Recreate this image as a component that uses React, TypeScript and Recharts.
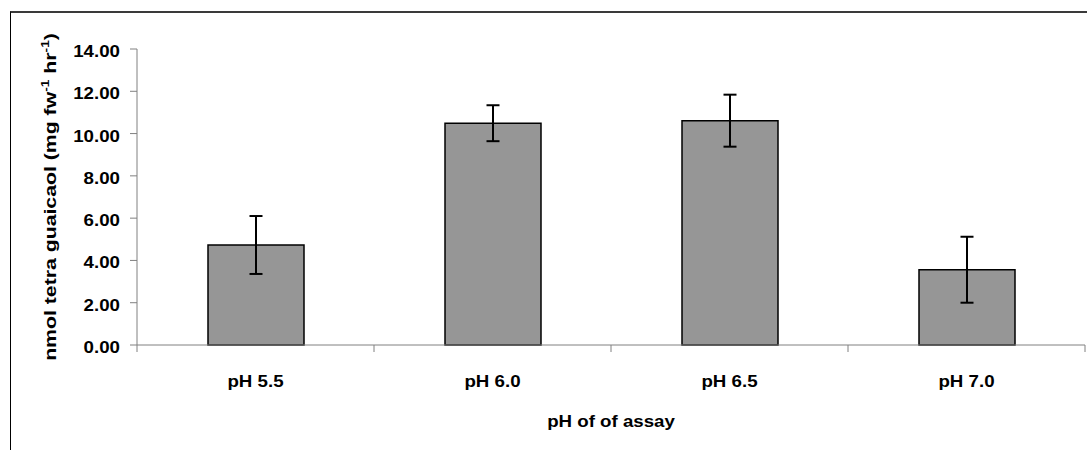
import React from 'react'
import { BarChart, Bar, XAxis, YAxis, ErrorBar, Label } from 'recharts'

const categories = ['pH 5.5', 'pH 6.0', 'pH 6.5', 'pH 7.0']
const means = [4.73, 10.49, 10.61, 3.56]
const errors = [1.37, 0.85, 1.23, 1.56]
const yTicks = [0, 2, 4, 6, 8, 10, 12, 14]

const xTitle = 'pH of of assay'

const W = 1087
const H = 450
const PLOT_LEFT = 137
const PLOT_RIGHT = 1085
const FONT = '"Liberation Sans", Arial, Helvetica, sans-serif'

const data = categories.map((c, i) => ({ name: c, mean: means[i], err: errors[i] }))

const halfBand = (PLOT_RIGHT - PLOT_LEFT) / categories.length / 2

const XTick = (props: any) => {
  const { x, y, payload, index } = props
  const last = index === categories.length - 1
  return (
    <g>
      <line x1={x - halfBand} y1={y - 7} x2={x - halfBand} y2={y} stroke="#808080" />
      {last && <line x1={x + halfBand} y1={y - 7} x2={x + halfBand} y2={y} stroke="#808080" />}
      <text
        transform={`translate(${x},${y + 35}) scale(1.1,1)`}
        textAnchor="middle"
        fontFamily={FONT}
        fontWeight="bold"
        fontSize={17}
        fill="#000"
      >
        {payload.value}
      </text>
    </g>
  )
}

const YTick = (props: any) => {
  const { x, y, payload } = props
  return (
    <text
      transform={`translate(${x},${y + 8}) scale(1.1,1)`}
      textAnchor="end"
      fontFamily={FONT}
      fontWeight="bold"
      fontSize={17}
      fill="#000"
    >
      {Number(payload.value).toFixed(2)}
    </text>
  )
}

const YTitle = (props: any) => {
  const vb = props.viewBox || {}
  const cy = (vb.y ?? 49) + (vb.height ?? 296) / 2
  return (
    <text
      transform={`translate(56,${cy}) rotate(-90) scale(1.25,1)`}
      textAnchor="middle"
      fontFamily={FONT}
      fontWeight="bold"
      fontSize={17}
      fill="#000"
    >
      nmol tetra guaicaol (mg fw
      <tspan fontSize={11} dy={-7}>-1</tspan>
      <tspan dy={7}> hr</tspan>
      <tspan fontSize={11} dy={-7}>-1</tspan>
      <tspan dy={7}>)</tspan>
    </text>
  )
}

const XTitle = (props: any) => {
  const vb = props.viewBox || {}
  const cx = (vb.x ?? PLOT_LEFT) + (vb.width ?? PLOT_RIGHT - PLOT_LEFT) / 2
  return (
    <text
      transform={`translate(${cx},427) scale(1.1,1)`}
      textAnchor="middle"
      fontFamily={FONT}
      fontWeight="bold"
      fontSize={17}
      fill="#000"
    >
      {xTitle}
    </text>
  )
}

export default function App() {
  return (
    <div style={{ position: 'absolute', left: 0, top: 0, width: W, height: H, overflow: 'hidden', background: '#fff' }}>
      <div
        style={{
          position: 'absolute',
          left: 10,
          top: 11,
          width: 1200,
          height: 600,
          borderTop: '2px solid #3a3a3a',
          borderLeft: '1px solid #000',
        }}
      />
      <div style={{ position: 'absolute', left: 0, top: 0 }}>
        <BarChart width={W} height={H} data={data} margin={{ top: 49, right: W - PLOT_RIGHT, bottom: 25, left: 0 }} barSize={96}>
          <XAxis
            dataKey="name"
            height={80}
            axisLine={{ stroke: '#808080' }}
            tickLine={false}
            tickSize={7}
            tickMargin={0}
            tick={<XTick />}
            interval={0}
          >
            <Label content={<XTitle />} />
          </XAxis>
          <YAxis
            width={PLOT_LEFT}
            domain={[0, 14]}
            ticks={yTicks}
            interval={0}
            axisLine={{ stroke: '#808080' }}
            tickLine={{ stroke: '#808080' }}
            tickSize={7}
            tickMargin={10}
            tick={<YTick />}
          >
            <Label content={<YTitle />} />
          </YAxis>
          <Bar dataKey="mean" fill="#969696" stroke="#000" strokeWidth={1.5} isAnimationActive={false}>
            <ErrorBar dataKey="err" width={6.5} stroke="#000" strokeWidth={2} direction="y" />
          </Bar>
        </BarChart>
      </div>
    </div>
  )
}
